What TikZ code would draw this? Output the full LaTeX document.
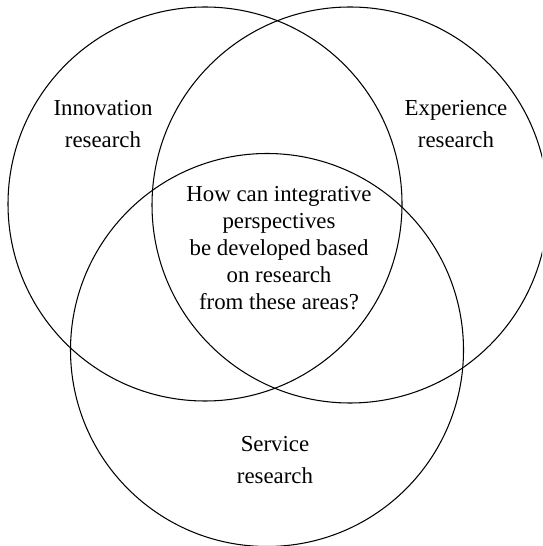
\documentclass[tikz,border=0pt]{standalone}
\usepackage{fontspec}
\setmainfont{Liberation Serif}

\begin{document}
\begin{tikzpicture}[x=0.02cm, y=-0.02cm,
    area/.style={draw, line width=0.6pt},
    setname/.style={align=center, font=\fontsize{13}{18.2}\selectfont},
    question/.style={align=center, font=\fontsize{13}{15.4}\selectfont}]
  \useasboundingbox (0,0) rectangle (542,546);
  \clip (0,0) rectangle (542,546);
  % ---------- the three research areas ----------
  \coordinate (cinnov) at (205,204);
  \coordinate (cexper) at (350,205);
  \coordinate (cserv)  at (267,350);
  \draw[area] (cinnov) circle [radius=197];
  \draw[area] (cexper) circle [radius=198];
  \draw[area] (cserv)  circle [radius=196.5];
  % ---------- labels ----------
  \node[setname] (innov) at (103,124) {Innovation\\research};
  \node[setname] (exper) at (456,124) {Experience\\research};
  \node[setname] (serv)  at (275,460) {Service\\research};
  \node[question] (quest) at (279,248)
    {How can integrative\\perspectives\\be developed based\\on research\\from these areas?};
\end{tikzpicture}
\end{document}
